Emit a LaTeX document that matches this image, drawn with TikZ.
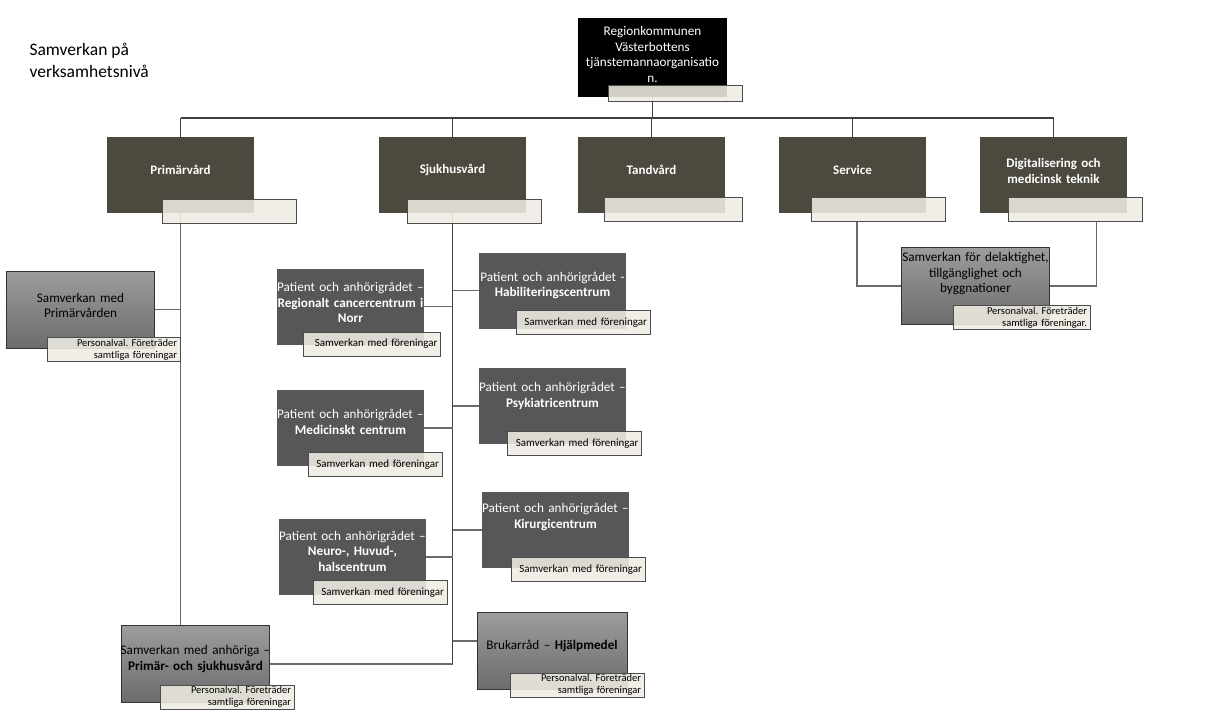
\documentclass[tikz,border=0pt]{standalone}
\usepackage{fontspec}
\setmainfont{Carlito}
\usetikzlibrary{backgrounds}
\frenchspacing
\hyphenpenalty=10000
\exhyphenpenalty=10000

\definecolor{unitcol}{HTML}{4C493F}
\definecolor{patcol}{HTML}{575757}
\definecolor{lblcol}{HTML}{EEECE2}
\definecolor{samvtop}{HTML}{9C9C9C}
\definecolor{samvbot}{HTML}{6C6C6C}
\definecolor{linecol}{HTML}{6A6A6A}

\tikzset{
    topbox/.style={fill=black, text=white, minimum width=149pt, minimum height=79pt,
        text width=155pt, inner xsep=-3pt, inner ysep=2pt, align=center, font=\fontsize{13.2}{15.5}\selectfont},
    unit/.style={fill=unitcol, text=white, minimum width=147pt, minimum height=76pt,
        text width=147pt, inner xsep=0pt, align=center, font=\fontsize{13}{16}\selectfont\bfseries},
    patient/.style={fill=patcol, text=white, minimum width=147pt, minimum height=76pt,
        text width=155pt, inner xsep=-4pt, inner ysep=1pt, align=center, font=\fontsize{13.2}{15.5}\selectfont},
    samv/.style={top color=samvtop, bottom color=samvbot, draw=black!80, text=black,
        minimum width=148pt, minimum height=77pt, text width=156pt, inner xsep=-4pt, inner ysep=1pt,
        align=center, font=\fontsize{13.2}{15.5}\selectfont},
    liftup/.style={execute at end node={\par\vspace{#1}}},
    lbl/.style={draw=black!70, fill=lblcol, fill opacity=0.88, text opacity=1,
        text width=#1, minimum height=24pt, inner xsep=3pt, inner ysep=1.5pt,
        align=right, font=\fontsize{11}{12.5}\selectfont},
    lbl/.default=128pt,
    pers/.style={font=\fontsize{10.5}{12}\selectfont},
    bus/.style={draw=black!75, line width=1.5pt},
    link/.style={draw=linecol, line width=1.8pt},
}

\begin{document}
\begin{tikzpicture}[x=1pt, y=-1pt]
    \useasboundingbox (0,0) rectangle (1209,714);

    \node[anchor=north west, align=left, font=\fontsize{17.5}{22}\selectfont] (title) at (26,40)
        {Samverkan på\\verksamhetsnivå};

    % ledning
    \node[topbox, liftup=6pt] (top) at (652.5,57.5) {Regionkommunen\\Västerbottens\\tjänstemannaorganisatio\\n.};
    \node[lbl, minimum height=16pt] (toplbl) at (675,93) {};

    % förvaltningar
    \node[unit, liftup=10pt] (prim) at (180.5,175) {Primärvård};
    \node[lbl] (primlbl) at (229.5,211) {};
    \node[unit, liftup=10pt] (sjuk) at (452.5,175) {Sjukhusvård};
    \node[lbl] (sjuklbl) at (474.5,211) {};
    \node[unit, liftup=10pt] (tand) at (651.5,175) {Tandvård};
    \node[lbl, text width=132pt] (tandlbl) at (673,209.5) {};
    \node[unit, liftup=10pt] (serv) at (852.5,175) {Service};
    \node[lbl] (servlbl) at (878,209.5) {};
    \node[unit, liftup=8pt] (digi) at (1053.5,175) {Digitalisering och\\medicinsk teknik};
    \node[lbl] (digilbl) at (1075.5,209.5) {};

    % primärvård
    \node[samv, liftup=8pt] (samvp) at (80.5,309.5) {Samverkan med\\Primärvården};
    \node[lbl=127pt, pers] (samvplbl) at (113.5,349.5) {Personalval. Företräder\\samtliga föreningar};
    \node[samv, liftup=10pt] (anh) at (195.5,664) {Samverkan med anhöriga –\\\textbf{Primär- och sjukhusvård}};
    \node[lbl, pers] (anhlbl) at (227,697) {Personalval. Företräder\\samtliga föreningar};

    % sjukhusvård
    \node[patient, liftup=8pt] (regio) at (350.5,306.5) {Patient och anhörigrådet –\\\textbf{Regionalt cancercentrum i}\\\textbf{Norr}};
    \node[lbl=131pt] (regiolbl) at (372,344) {Samverkan med föreningar};
    \node[patient, liftup=10pt] (habi) at (552.5,290.5) {Patient och anhörigrådet -\\\textbf{Habiliteringscentrum}};
    \node[lbl] (habilbl) at (583,322.5) {Samverkan med föreningar};
    \node[patient, liftup=12pt] (medi) at (350.5,428) {Patient och anhörigrådet –\\\textbf{Medicinskt centrum}};
    \node[lbl] (medilbl) at (375,464.5) {Samverkan med föreningar};
    \node[patient, liftup=20pt] (psyk) at (552.5,406) {Patient och anhörigrådet –\\\textbf{Psykiatricentrum}};
    \node[lbl] (psyklbl) at (574.5,443.5) {Samverkan med föreningar};
    \node[patient, liftup=12pt] (neuro) at (352.5,557) {Patient och anhörigrådet –\\\textbf{Neuro-, Huvud-,}\\\textbf{halscentrum}};
    \node[lbl] (neurolbl) at (380,592.5) {Samverkan med föreningar};
    \node[patient, liftup=26pt] (kiru) at (555.5,530) {Patient och anhörigrådet –\\\textbf{Kirurgicentrum}};
    \node[lbl] (kirulbl) at (578,569.5) {Samverkan med föreningar};
    \node[samv, minimum width=150pt, liftup=10pt] (bruk) at (552,651) {Brukarråd – \textbf{Hjälpmedel}};
    \node[lbl, pers] (bruklbl) at (577,685) {Personalval. Företräder\\samtliga föreningar};

    % service och digitalisering
    \node[samv, liftup=24pt] (deltag) at (975.5,286) {Samverkan för delaktighet,\\tillgänglighet och\\byggnationer};
    \node[lbl=131pt, pers] (deltaglbl) at (1021.5,317.5) {Personalval. Företräder\\samtliga föreningar.};

    \coordinate (busL) at (180.5,118);
    \coordinate (busR) at (1053.5,118);

    \begin{scope}[on background layer]
        \draw[bus] (top.south) -- (top.south |- busL);
        \draw[bus] (busL) -- (busR);
        \foreach \u in {prim, sjuk, tand, serv, digi}
            \draw[bus] (\u.north) -- (\u.north |- busL);

        \draw[link] (prim.south) -- (prim.south |- anh.north);
        \draw[link] (samvp.east) -- (samvp.east -| prim.south);

        \draw[link, draw=black!75] (sjuk.south) -- (sjuk.south |- anh.east);
        \draw[link] (anh.east) -- (anh.east -| sjuk.south);
        \foreach \p in {regio, medi, neuro}
            \draw[link] (\p.east) -- (\p.east -| sjuk.south);
        \foreach \p in {habi, psyk, kiru}
            \draw[link] (\p.west) -- (\p.west -| sjuk.south);
        \draw[link] ([yshift=10pt]bruk.west) -- ([yshift=10pt]bruk.west -| sjuk.south);

        \draw[link] ([xshift=-21pt]servlbl.south) |- (deltag.west);
        \draw[link] ([xshift=21pt]digilbl.south) |- (deltag.east);
    \end{scope}
\end{tikzpicture}
\end{document}
